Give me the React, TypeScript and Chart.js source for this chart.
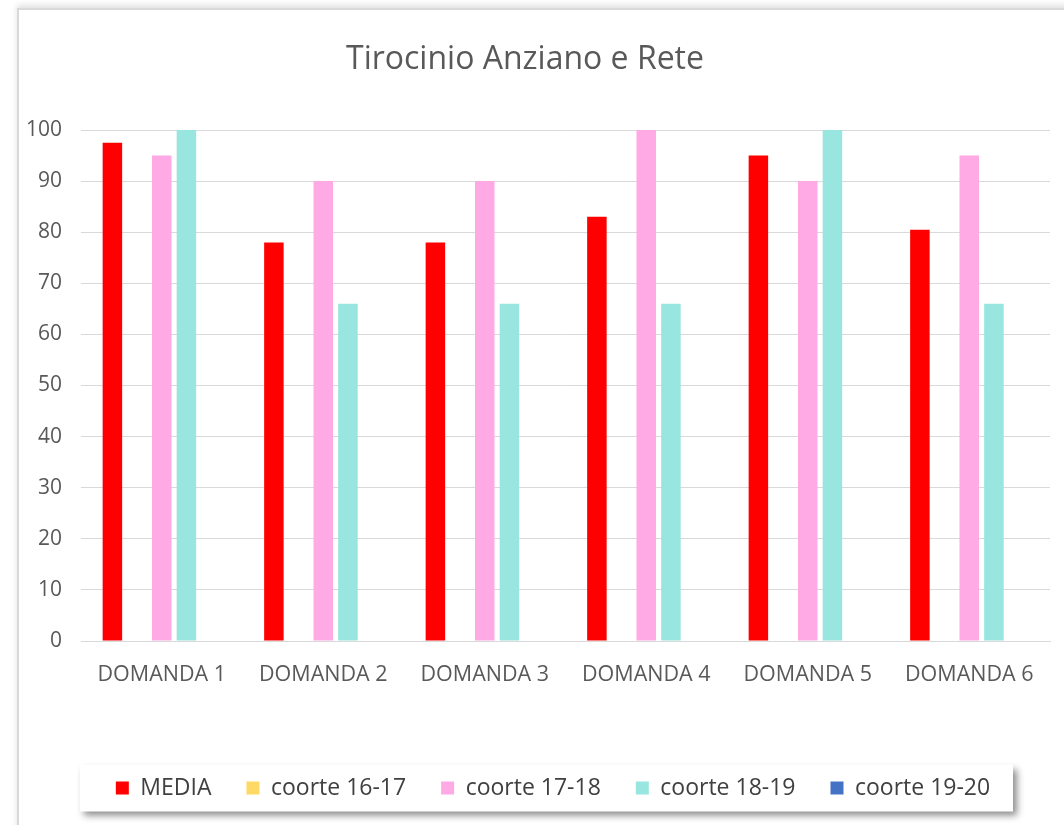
import React, { useEffect, useRef } from "react";
import { Chart, registerables } from "chart.js";

Chart.register(...registerables);

const TITLE = "Tirocinio Anziano e Rete";
const CATEGORIES = ["DOMANDA 1", "DOMANDA 2", "DOMANDA 3", "DOMANDA 4", "DOMANDA 5", "DOMANDA 6"];
const MEDIA = [97.5, 78, 78, 83, 95, 80.5];
const COORTE_16_17: (number | null)[] = [null, null, null, null, null, null];
const COORTE_17_18 = [95, 90, 90, 100, 90, 95];
const COORTE_18_19 = [100, 66, 66, 66, 100, 66];
const COORTE_19_20: (number | null)[] = [null, null, null, null, null, null];
const SERIES_NAMES = ["MEDIA", "coorte 16-17", "coorte 17-18", "coorte 18-19", "coorte 19-20"];
const COLORS = ["#FF0000", "#FFD966", "#FFA9E5", "#99E5DF", "#4472C4"];
const Y_TICKS = [0, 10, 20, 30, 40, 50, 60, 70, 80, 90, 100];

const FONT = "'Open Sans', sans-serif";
const PLOT_LEFT = 81;
const PLOT_RIGHT = 1050;
const PLOT_TOP = 130;
const PLOT_BOTTOM = 641;
const W = 1064;
const H = 825;
const TITLE_SIZE = 32;
const LEGEND_SIZE = 23;
const BOTTOM_PAD = 15.5;
const LEGEND_SHIFT = 28;

const legendBoxPlugin = {
  id: "legendBox",
  afterLayout(chart: any) {
    const lg = chart.legend;
    if (!lg) return;
    lg.left += LEGEND_SHIFT;
    lg.right += LEGEND_SHIFT;
  },
  beforeDraw(chart: any) {
    const lg = chart.legend;
    if (!lg || !lg.legendHitBoxes || !lg.legendHitBoxes.length) return;
    const boxes = lg.legendHitBoxes;
    const cy = boxes[0].top + boxes[0].height / 2;
    const ctx = chart.ctx;
    ctx.save();
    ctx.shadowColor = "rgba(0,0,0,0.45)";
    ctx.shadowBlur = 7;
    ctx.shadowOffsetX = 4;
    ctx.shadowOffsetY = 4;
    ctx.fillStyle = "#ffffff";
    ctx.fillRect(80, cy - 23.5, 933, 47);
    ctx.restore();
  },
};

export default function App() {
  const ref = useRef<HTMLCanvasElement>(null);
  useEffect(() => {
    if (!ref.current) return;
    const values = [MEDIA, COORTE_16_17, COORTE_17_18, COORTE_18_19, COORTE_19_20];
    const chart = new Chart(ref.current, {
      type: "bar",
      data: {
        labels: CATEGORIES,
        datasets: SERIES_NAMES.map((name, i) => ({
          label: name,
          data: values[i] as any,
          backgroundColor: COLORS[i],
          borderWidth: 0,
          categoryPercentage: 0.764,
          barPercentage: 0.79,
        })),
      },
      options: {
        animation: false,
        responsive: false,
        maintainAspectRatio: false,
        layout: { padding: { left: 0, right: W - PLOT_RIGHT, top: 0, bottom: BOTTOM_PAD } },
        plugins: {
          title: {
            display: true,
            text: TITLE,
            color: "#595959",
            font: { family: FONT, size: TITLE_SIZE, weight: "normal" as any },
            padding: { top: 41, bottom: PLOT_TOP - 41 - TITLE_SIZE * 1.2 },
          },
          legend: {
            display: true,
            position: "bottom",
            labels: {
              boxWidth: 13,
              boxHeight: 13,
              padding: 35,
              color: "#404040",
              font: { family: FONT, size: LEGEND_SIZE },
            },
          },
          tooltip: { enabled: false },
        },
        scales: {
          x: {
            grid: { display: false, drawTicks: false },
            border: { display: true, color: "#d9d9d9", width: 1 },
            ticks: { color: "#595959", font: { family: FONT, size: 21.5 }, padding: 21, maxRotation: 0 },
            afterFit: (scale: any) => {
              const lg = scale.chart.legend;
              const lh = lg ? lg.height : 0;
              scale.height = H - BOTTOM_PAD - lh - PLOT_BOTTOM;
            },
          },
          y: {
            min: 0,
            max: 100,
            afterBuildTicks: (scale: any) => {
              scale.ticks = Y_TICKS.map((v) => ({ value: v }));
            },
            grid: { color: "#d9d9d9", drawTicks: false },
            border: { display: false },
            ticks: { color: "#595959", font: { family: FONT, size: 21 }, padding: 19 },
            afterFit: (scale: any) => {
              scale.width = PLOT_LEFT;
            },
          },
        },
      },
      plugins: [legendBoxPlugin],
    });
    return () => chart.destroy();
  }, []);

  return (
    <div style={{ position: "absolute", left: 0, top: 0, width: W, height: H, overflow: "hidden", background: "#fff" }}>
      <div
        style={{
          position: "absolute",
          left: 17,
          top: 8,
          width: 1100,
          height: 900,
          borderLeft: "2px solid #d9d9d9",
          borderTop: "2px solid #d9d9d9",
          boxShadow: "0 -3px 6px rgba(0,0,0,0.12)",
          background: "#fff",
        }}
      />
      <canvas ref={ref} width={W} height={H} style={{ position: "absolute", left: 0, top: 0, width: W, height: H }} />
    </div>
  );
}
